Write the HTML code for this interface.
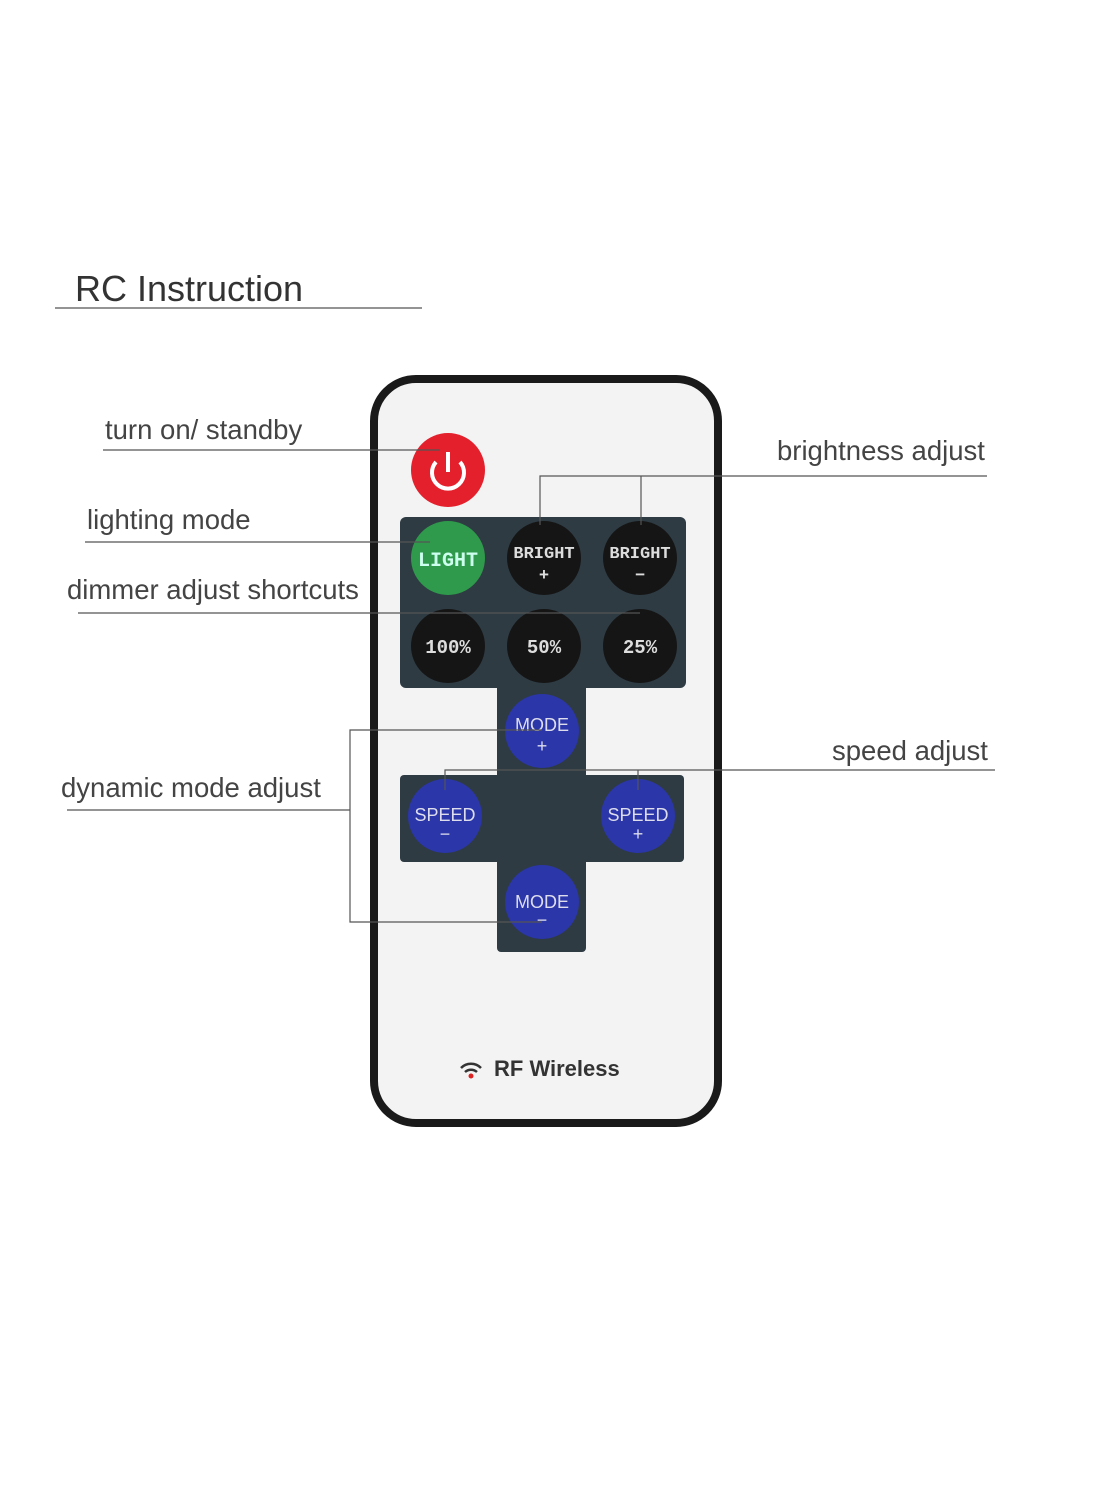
<!DOCTYPE html>
<html><head><meta charset="utf-8"><style>
body{margin:0;width:1100px;height:1500px;background:#fff;position:relative;overflow:hidden;font-family:"Liberation Sans",sans-serif;}
.t{position:absolute;color:#444;font-size:27.5px;font-weight:300;white-space:nowrap;}
</style></head><body>
<svg width="1100" height="1500" style="position:absolute;left:0;top:0">
<rect x="374" y="379" width="344" height="744" rx="42" fill="#f3f3f3" stroke="#1a1a1a" stroke-width="8"/>
<rect x="400" y="517" width="286" height="171" rx="6" fill="#2e3b43"/>
<rect x="497" y="688" width="89" height="264" rx="4" fill="#2e3b43"/>
<rect x="400" y="775" width="284" height="87" rx="4" fill="#2e3b43"/>
<rect x="497" y="686" width="89" height="6" fill="#2e3b43"/>
<g font-family="Liberation Mono,monospace" font-weight="bold" text-anchor="middle">
<circle cx="448" cy="470" r="37" fill="#e3202c"/>
<path d="M436 462 A16 16 0 1 0 460 462" fill="none" stroke="#fff" stroke-width="4"/>
<line x1="448" y1="452" x2="448" y2="472" stroke="#fff" stroke-width="4"/>
<circle cx="448" cy="558" r="37" fill="#2f9a4b"/>
<text x="448" y="566" fill="#cfe" font-size="20">LIGHT</text>
<circle cx="544" cy="558" r="37" fill="#151515"/>
<text x="544" y="558" fill="#ddd" font-size="17">BRIGHT</text><text x="544" y="580" fill="#ddd" font-size="17">+</text>
<circle cx="640" cy="558" r="37" fill="#151515"/>
<text x="640" y="558" fill="#ddd" font-size="17">BRIGHT</text><text x="640" y="580" fill="#ddd" font-size="17">−</text>
<circle cx="448" cy="646" r="37" fill="#151515"/><text x="448" y="653" fill="#ddd" font-size="19">100%</text>
<circle cx="544" cy="646" r="37" fill="#151515"/><text x="544" y="653" fill="#ddd" font-size="19">50%</text>
<circle cx="640" cy="646" r="37" fill="#151515"/><text x="640" y="653" fill="#ddd" font-size="19">25%</text>
<g font-family="Liberation Sans,sans-serif" font-weight="normal">
<circle cx="542" cy="731" r="37" fill="#2b36a8"/><text x="542" y="731" fill="#dde" font-size="18">MODE</text><text x="542" y="752" fill="#dde" font-size="18">+</text>
<circle cx="445" cy="816" r="37" fill="#2b36a8"/><text x="445" y="821" fill="#dde" font-size="18">SPEED</text><text x="445" y="840" fill="#dde" font-size="18">−</text>
<circle cx="638" cy="816" r="37" fill="#2b36a8"/><text x="638" y="821" fill="#dde" font-size="18">SPEED</text><text x="638" y="840" fill="#dde" font-size="18">+</text>
<circle cx="542" cy="902" r="37" fill="#2b36a8"/><text x="542" y="908" fill="#dde" font-size="18">MODE</text><text x="542" y="926" fill="#dde" font-size="18">−</text>
</g></g>
<g stroke="#555" stroke-width="1.2" fill="none">
<line x1="55" y1="308" x2="422" y2="308"/>
<line x1="103" y1="450" x2="440" y2="450"/>
<line x1="85" y1="542" x2="430" y2="542"/>
<line x1="78" y1="613" x2="640" y2="613"/>
<polyline points="540,525 540,476 987,476"/>
<line x1="641" y1="476" x2="641" y2="525"/>
<polyline points="445,790 445,770 995,770"/>
<line x1="638" y1="770" x2="638" y2="790"/>
<line x1="67" y1="810" x2="350" y2="810"/>
<polyline points="542,730 350,730 350,922 542,922"/>
</g>
<g fill="none" stroke="#333" stroke-width="2.5">
<path d="M461 1068 A14 14 0 0 1 481 1068"/><path d="M465 1072 A9 9 0 0 1 477 1072"/>
</g>
<circle cx="471" cy="1076" r="2.5" fill="#d22"/>
</svg>
<div class="t" style="left:75px;top:268px;font-size:36px;color:#333">RC Instruction</div>
<div class="t" style="left:105px;top:414px">turn on/ standby</div>
<div class="t" style="left:87px;top:504px">lighting mode</div>
<div class="t" style="left:67px;top:574px">dimmer adjust shortcuts</div>
<div class="t" style="left:777px;top:435px">brightness adjust</div>
<div class="t" style="left:832px;top:735px">speed adjust</div>
<div class="t" style="left:61px;top:772px">dynamic mode adjust</div>
<div class="t" style="left:494px;top:1056px;font-size:22px;font-weight:bold;color:#333">RF Wireless</div>
</body></html>
